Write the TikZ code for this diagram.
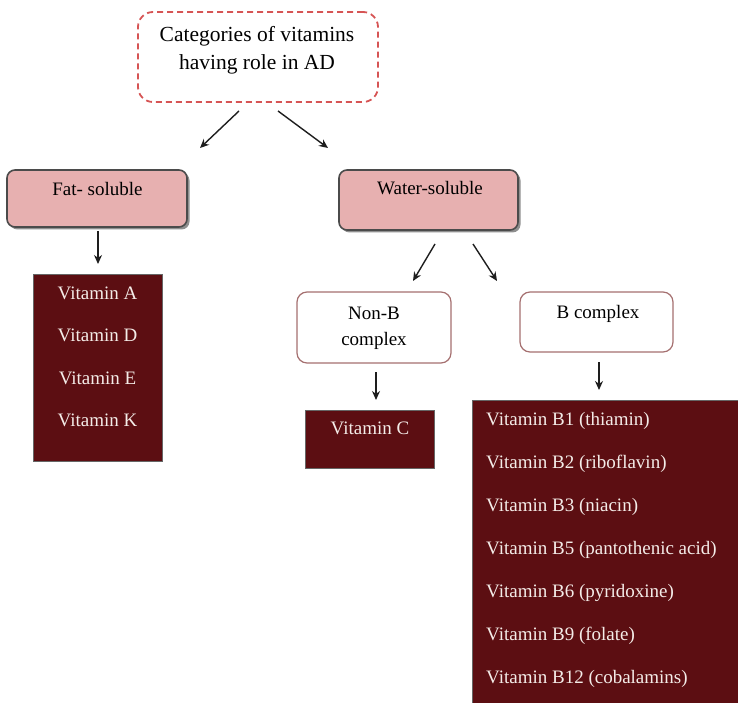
\documentclass[tikz,border=0pt]{standalone}
\usepackage{fontspec}
\setmainfont{Liberation Serif}
\usetikzlibrary{arrows.meta,shadows}
\definecolor{pinkfill}{RGB}{231,176,176}
\definecolor{pinkline}{RGB}{75,75,75}
\definecolor{maroon}{RGB}{92,14,18}
\definecolor{paletext}{RGB}{244,236,232}
\definecolor{dashred}{RGB}{214,84,84}
\definecolor{whiteline}{RGB}{165,112,112}
\definecolor{arrowc}{RGB}{30,30,30}
\tikzset{
  boxbase/.style={rectangle, inner sep=0pt, anchor=center},
  titlebox/.style={boxbase, draw=dashred, dashed, dash pattern=on 6pt off 4pt, line width=1.8pt, rounded corners=15pt},
  pinkbox/.style={boxbase, fill=pinkfill, draw=pinkline, line width=1.6pt, rounded corners=8pt,
     drop shadow={shadow xshift=2.5pt, shadow yshift=-2.5pt, fill=black!55, opacity=0.8}},
  whitebox/.style={boxbase, fill=white, draw=whiteline, line width=1.2pt, rounded corners=10pt},
  darkbox/.style={boxbase, fill=maroon, draw=black!60, line width=0.8pt},
  bodytxt/.style={font=\fontsize{19}{26}\selectfont, text=black, inner sep=0pt},
  listtxt/.style={font=\fontsize{19}{26}\selectfont, text=paletext, inner sep=0pt},
  arr/.style={draw=arrowc, line width=1.4pt, -{Stealth[length=9pt,width=8pt]}}
}
\begin{document}
\begin{tikzpicture}[x=1pt,y=-1pt]
\useasboundingbox (0,0) rectangle (738,703);
% boxes
\node[titlebox, minimum width=240pt, minimum height=90pt] (top) at (258,57) {};
\node[font=\fontsize{21.5}{28}\selectfont, align=center, inner sep=0pt, anchor=base] (topT) at (257,70) {Categories of vitamins\\having role in AD};

\node[pinkbox, minimum width=180pt, minimum height=57pt] (fat) at (97,198.5) {};
\node[bodytxt, anchor=base] (fatT) at (97.5,196) {Fat- soluble};

\node[pinkbox, minimum width=179pt, minimum height=60pt] (water) at (428.5,200) {};
\node[bodytxt, anchor=base] (waterT) at (430,195) {Water-soluble};

\node[darkbox, minimum width=129pt, minimum height=187pt] (fatlist) at (97.5,367.5) {};
\node[listtxt, anchor=base] (vA) at (97.5,299) {Vitamin A};
\node[listtxt, anchor=base] (vD) at (97.5,341.5) {Vitamin D};
\node[listtxt, anchor=base] (vE) at (97.5,384) {Vitamin E};
\node[listtxt, anchor=base] (vK) at (97.5,426.5) {Vitamin K};

\node[whitebox, minimum width=154pt, minimum height=71pt] (nonb) at (374,327.5) {};
\node[bodytxt, anchor=base, align=center] (nonbT) at (374,345) {Non-B\\complex};

\node[whitebox, minimum width=153pt, minimum height=60pt] (bcx) at (596.5,322) {};
\node[bodytxt, anchor=base] (bcxT) at (598,318) {B complex};

\node[darkbox, minimum width=129pt, minimum height=58pt] (vitc) at (369.5,439) {};
\node[listtxt, anchor=base] (vC) at (370,434) {Vitamin C};

\node[darkbox, minimum width=268pt, minimum height=306pt] (blist) at (606,553) {};
\node[listtxt, anchor=base west] (b1) at (486,425) {Vitamin B1 (thiamin)};
\node[listtxt, anchor=base west] (b2) at (486,468) {Vitamin B2 (riboflavin)};
\node[listtxt, anchor=base west] (b3) at (486,511) {Vitamin B3 (niacin)};
\node[listtxt, anchor=base west] (b5) at (486,554) {Vitamin B5 (pantothenic acid)};
\node[listtxt, anchor=base west] (b6) at (486,597) {Vitamin B6 (pyridoxine)};
\node[listtxt, anchor=base west] (b9) at (486,640) {Vitamin B9 (folate)};
\node[listtxt, anchor=base west] (b12) at (486,683) {Vitamin B12 (cobalamins)};

% arrow end points
\coordinate (a1s) at (239,111);
\coordinate (a1e) at (200,148);
\coordinate (a2s) at (278,111);
\coordinate (a2e) at (328,148);
\coordinate (a3s) at (98,231);
\coordinate (a3e) at (98,264);
\coordinate (a4s) at (435,244);
\coordinate (a4e) at (413,281);
\coordinate (a5s) at (473,244);
\coordinate (a5e) at (497,281);
\coordinate (a6s) at (376,372);
\coordinate (a6e) at (376,400);
\coordinate (a7s) at (599,362);
\coordinate (a7e) at (599,390);

\draw[arr] (a1s) -- (a1e);
\draw[arr] (a2s) -- (a2e);
\draw[arr] (a3s) -- (a3e);
\draw[arr] (a4s) -- (a4e);
\draw[arr] (a5s) -- (a5e);
\draw[arr] (a6s) -- (a6e);
\draw[arr] (a7s) -- (a7e);
\end{tikzpicture}
\end{document}
